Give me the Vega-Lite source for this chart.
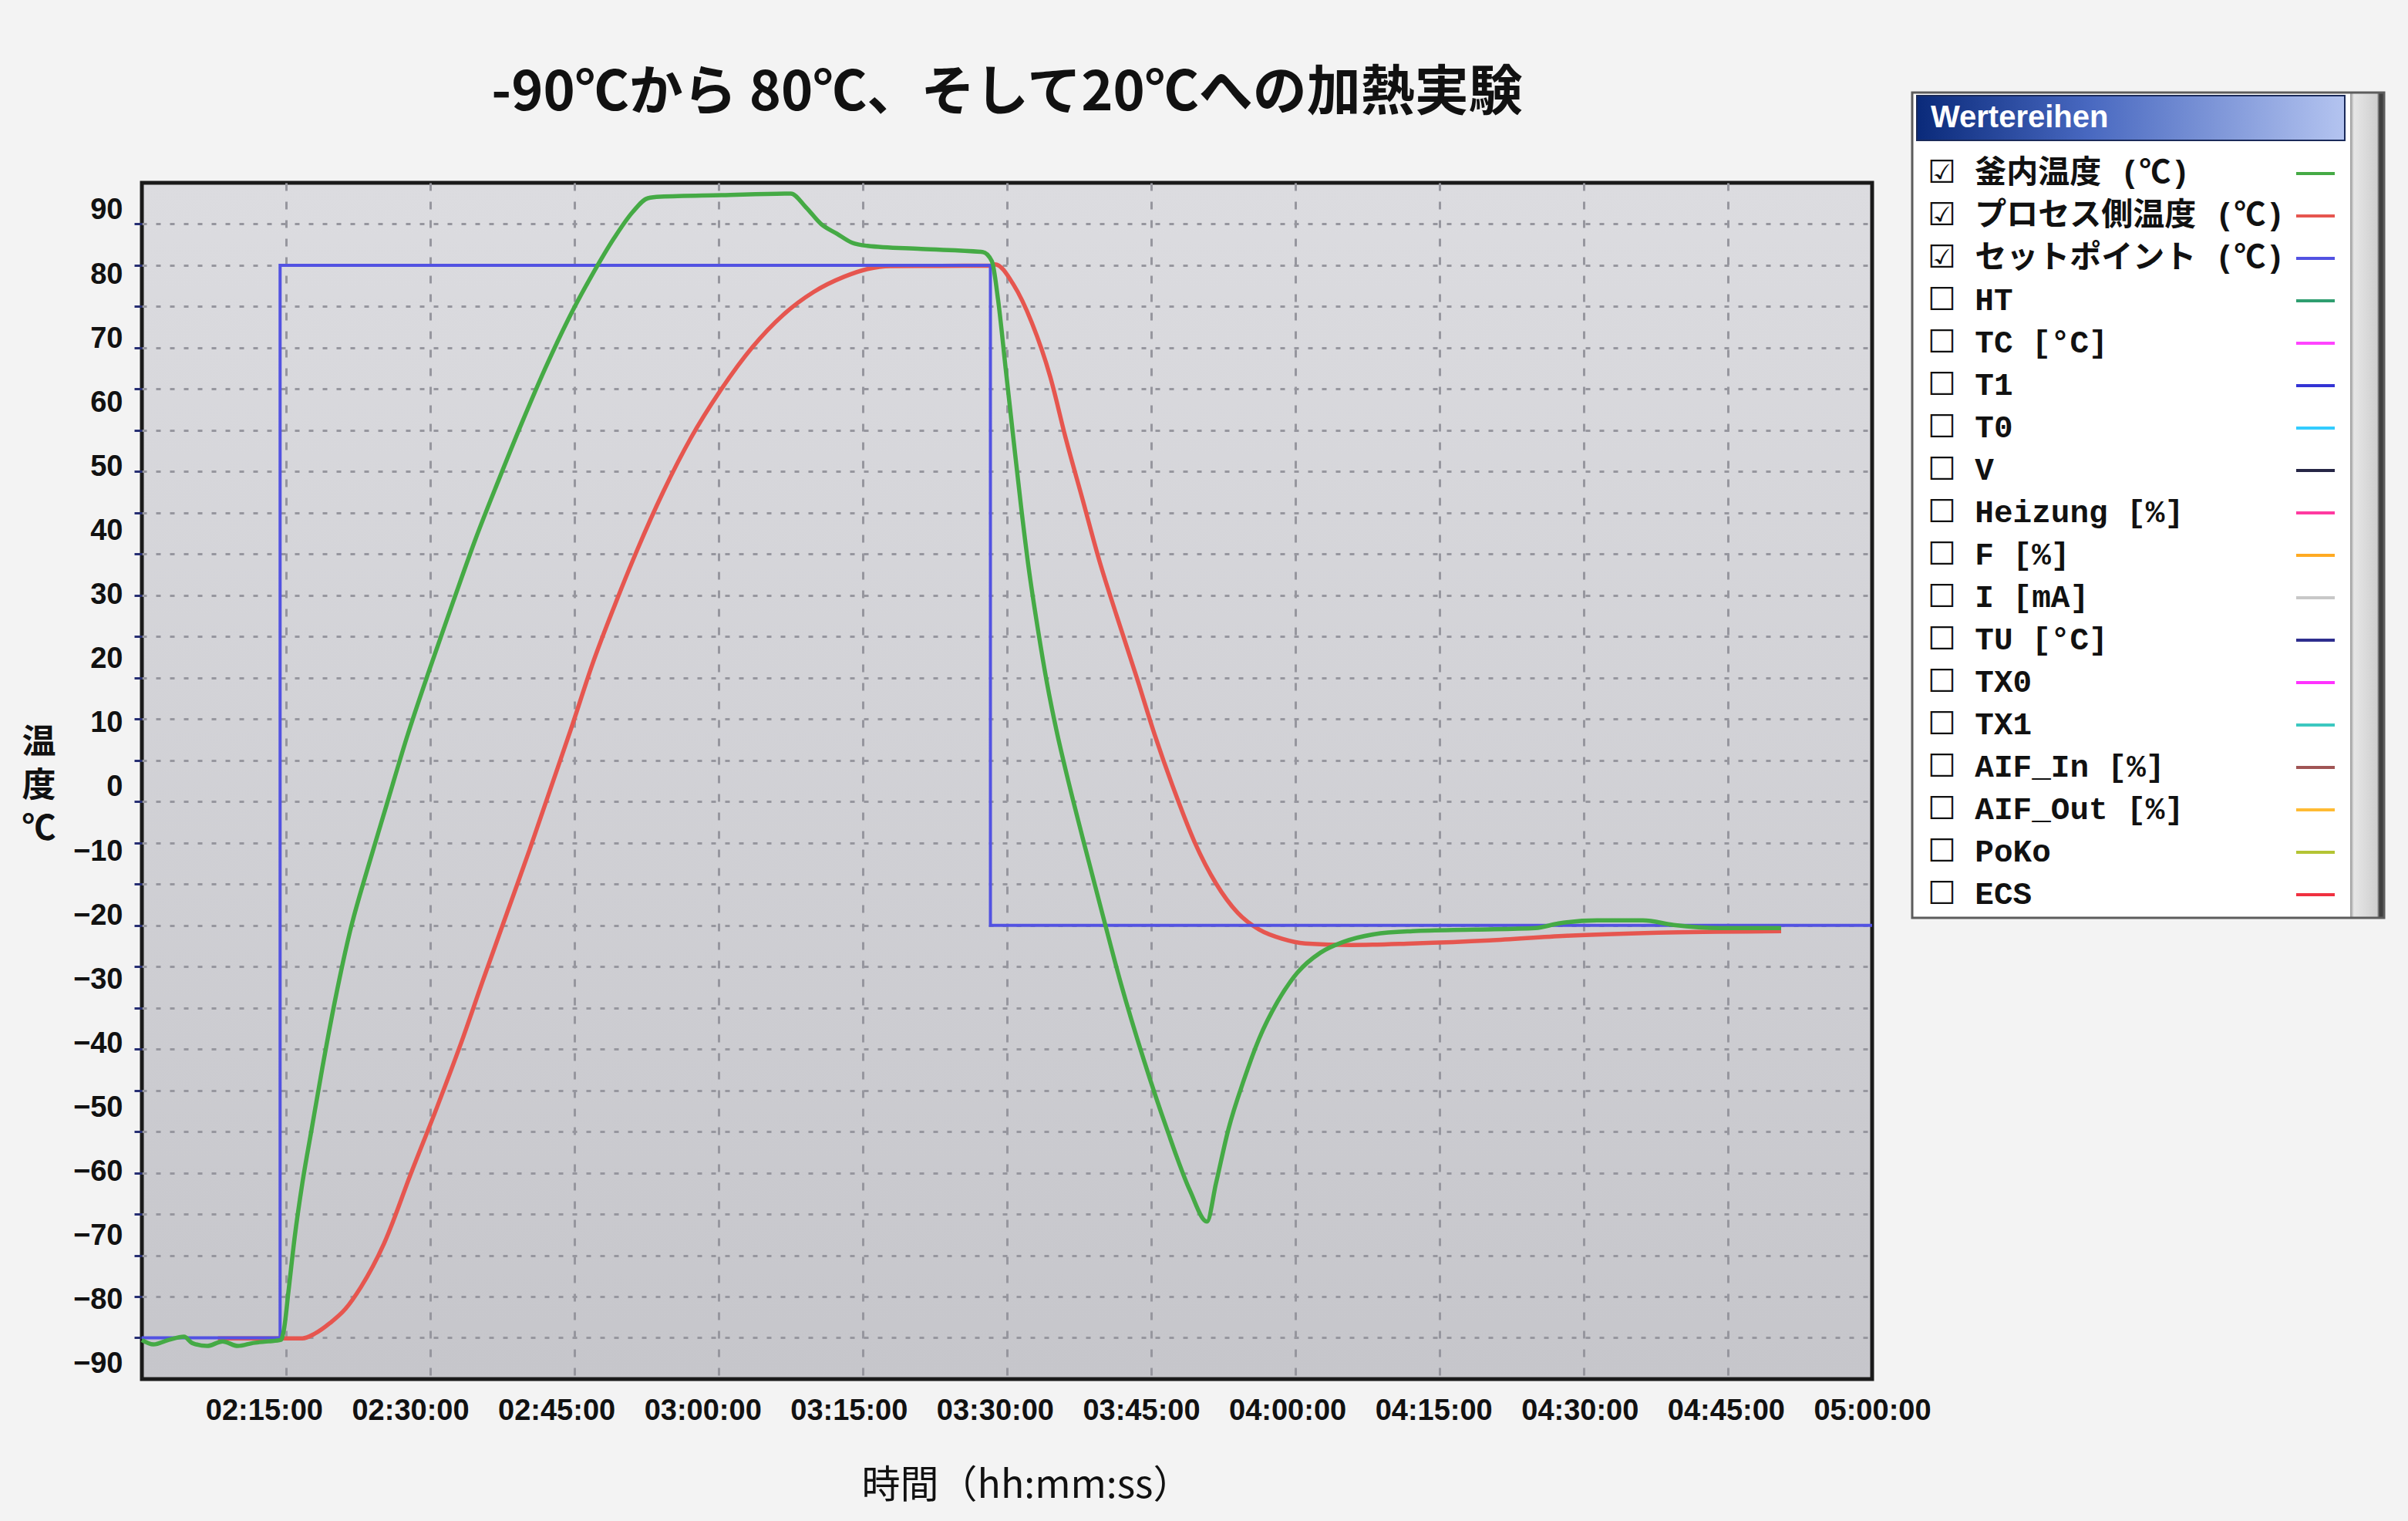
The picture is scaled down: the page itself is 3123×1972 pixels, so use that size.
{
  "$schema": "https://vega.github.io/schema/vega-lite/v6.json",
  "width": 2244,
  "height": 1551,
  "autosize": {"type": "none"},
  "padding": {"left": 184, "top": 237, "right": 695, "bottom": 184},
  "background": "#f3f3f3",
  "title": {
    "text": "-90℃から 80℃、そして20℃への加熱実験",
    "font": "Noto Sans CJK JP",
    "fontSize": 70,
    "fontWeight": "bold",
    "color": "#111111",
    "anchor": "middle",
    "frame": "group",
    "baseline": "middle",
    "offset": -73
  },
  "config": {
    "view": {
      "fill": {"gradient": "linear", "x1": 0, "y1": 0, "x2": 0, "y2": 1, "stops": [{"offset": 0, "color": "#dcdce0"}, {"offset": 1, "color": "#c6c6cb"}]},
      "stroke": "#1a1a1a",
      "strokeWidth": 5
    }
  },
  "data": {
    "values": [
      {"series": "セットポイント (℃)", "t": "2024-01-01T02:02:28", "v": -85.85, "i": 0},
      {"series": "セットポイント (℃)", "t": "2024-01-01T02:16:39", "v": -85.85, "i": 1},
      {"series": "セットポイント (℃)", "t": "2024-01-01T02:16:39", "v": 81.46, "i": 2},
      {"series": "セットポイント (℃)", "t": "2024-01-01T03:29:32", "v": 81.46, "i": 3},
      {"series": "セットポイント (℃)", "t": "2024-01-01T03:29:32", "v": -21.5, "i": 4},
      {"series": "セットポイント (℃)", "t": "2024-01-01T05:00:00", "v": -21.5, "i": 5},

      {"series": "プロセス側温度 (℃)", "t": "2024-01-01T02:10:16", "v": -85.93, "i": 0},
      {"series": "プロセス側温度 (℃)", "t": "2024-01-01T02:18:56", "v": -85.93, "i": 1},
      {"series": "プロセス側温度 (℃)", "t": "2024-01-01T02:20:12", "v": -85.21, "i": 2},
      {"series": "プロセス側温度 (℃)", "t": "2024-01-01T02:21:47", "v": -83.53, "i": 3},
      {"series": "プロセス側温度 (℃)", "t": "2024-01-01T02:23:21", "v": -81.35, "i": 4},
      {"series": "プロセス側温度 (℃)", "t": "2024-01-01T02:24:56", "v": -77.96, "i": 5},
      {"series": "プロセス側温度 (℃)", "t": "2024-01-01T02:27:17", "v": -71.25, "i": 6},
      {"series": "プロセス側温度 (℃)", "t": "2024-01-01T02:30:08", "v": -59.98, "i": 7},
      {"series": "プロセス側温度 (℃)", "t": "2024-01-01T02:32:48", "v": -49.68, "i": 8},
      {"series": "プロセス側温度 (℃)", "t": "2024-01-01T02:35:10", "v": -40.09, "i": 9},
      {"series": "プロセス側温度 (℃)", "t": "2024-01-01T02:37:32", "v": -29.78, "i": 10},
      {"series": "プロセス側温度 (℃)", "t": "2024-01-01T02:39:54", "v": -19.71, "i": 11},
      {"series": "プロセス側温度 (℃)", "t": "2024-01-01T02:42:15", "v": -9.71, "i": 12},
      {"series": "プロセス側温度 (℃)", "t": "2024-01-01T02:44:18", "v": -0.61, "i": 13},
      {"series": "プロセス側温度 (℃)", "t": "2024-01-01T02:46:31", "v": 9.22, "i": 14},
      {"series": "プロセス側温度 (℃)", "t": "2024-01-01T02:48:43", "v": 19.32, "i": 15},
      {"series": "プロセス側温度 (℃)", "t": "2024-01-01T02:50:55", "v": 28.16, "i": 16},
      {"series": "プロセス側温度 (℃)", "t": "2024-01-01T02:53:17", "v": 37.03, "i": 17},
      {"series": "プロセス側温度 (℃)", "t": "2024-01-01T02:55:58", "v": 46.14, "i": 18},
      {"series": "プロセス側温度 (℃)", "t": "2024-01-01T02:58:48", "v": 54.53, "i": 19},
      {"series": "プロセス側温度 (℃)", "t": "2024-01-01T03:01:57", "v": 62.2, "i": 20},
      {"series": "プロセス側温度 (℃)", "t": "2024-01-01T03:05:06", "v": 68.67, "i": 21},
      {"series": "プロセス側温度 (℃)", "t": "2024-01-01T03:08:15", "v": 73.7, "i": 22},
      {"series": "プロセス側温度 (℃)", "t": "2024-01-01T03:11:24", "v": 77.3, "i": 23},
      {"series": "プロセス側温度 (℃)", "t": "2024-01-01T03:14:33", "v": 79.69, "i": 24},
      {"series": "プロセス側温度 (℃)", "t": "2024-01-01T03:16:55", "v": 80.89, "i": 25},
      {"series": "プロセス側温度 (℃)", "t": "2024-01-01T03:19:17", "v": 81.35, "i": 26},
      {"series": "プロセス側温度 (℃)", "t": "2024-01-01T03:29:31", "v": 81.4, "i": 27},
      {"series": "プロセス側温度 (℃)", "t": "2024-01-01T03:30:00", "v": 81.61, "i": 28},
      {"series": "プロセス側温度 (℃)", "t": "2024-01-01T03:31:53", "v": 78.49, "i": 29},
      {"series": "プロセス側温度 (℃)", "t": "2024-01-01T03:33:47", "v": 72.5, "i": 30},
      {"series": "プロセス側温度 (℃)", "t": "2024-01-01T03:35:40", "v": 64.11, "i": 31},
      {"series": "プロセス側温度 (℃)", "t": "2024-01-01T03:37:15", "v": 54.53, "i": 32},
      {"series": "プロセス側温度 (℃)", "t": "2024-01-01T03:38:59", "v": 44.97, "i": 33},
      {"series": "プロセス側温度 (℃)", "t": "2024-01-01T03:40:43", "v": 35.35, "i": 34},
      {"series": "プロセス側温度 (℃)", "t": "2024-01-01T03:42:27", "v": 26.96, "i": 35},
      {"series": "プロセス側温度 (℃)", "t": "2024-01-01T03:44:30", "v": 17.37, "i": 36},
      {"series": "プロセス側温度 (℃)", "t": "2024-01-01T03:46:23", "v": 8.26, "i": 37},
      {"series": "プロセス側温度 (℃)", "t": "2024-01-01T03:48:26", "v": -0.61, "i": 38},
      {"series": "プロセス側温度 (℃)", "t": "2024-01-01T03:50:29", "v": -8.52, "i": 39},
      {"series": "プロセス側温度 (℃)", "t": "2024-01-01T03:52:41", "v": -14.98, "i": 40},
      {"series": "プロセス側温度 (℃)", "t": "2024-01-01T03:54:54", "v": -19.54, "i": 41},
      {"series": "プロセス側温度 (℃)", "t": "2024-01-01T03:57:06", "v": -22.17, "i": 42},
      {"series": "プロセス側温度 (℃)", "t": "2024-01-01T03:59:28", "v": -23.61, "i": 43},
      {"series": "プロセス側温度 (℃)", "t": "2024-01-01T04:01:50", "v": -24.33, "i": 44},
      {"series": "プロセス側温度 (℃)", "t": "2024-01-01T04:06:33", "v": -24.57, "i": 45},
      {"series": "プロセス側温度 (℃)", "t": "2024-01-01T04:12:51", "v": -24.33, "i": 46},
      {"series": "プロセス側温度 (℃)", "t": "2024-01-01T04:20:44", "v": -23.85, "i": 47},
      {"series": "プロセス側温度 (℃)", "t": "2024-01-01T04:28:37", "v": -23.13, "i": 48},
      {"series": "プロセス側温度 (℃)", "t": "2024-01-01T04:38:04", "v": -22.65, "i": 49},
      {"series": "プロセス側温度 (℃)", "t": "2024-01-01T04:50:40", "v": -22.41, "i": 50},

      {"series": "釜内温度 (℃)", "t": "2024-01-01T02:02:28", "v": -86.2, "i": 0},
      {"series": "釜内温度 (℃)", "t": "2024-01-01T02:03:39", "v": -86.89, "i": 1},
      {"series": "釜内温度 (℃)", "t": "2024-01-01T02:05:14", "v": -86.17, "i": 2},
      {"series": "釜内温度 (℃)", "t": "2024-01-01T02:06:48", "v": -85.68, "i": 3},
      {"series": "釜内温度 (℃)", "t": "2024-01-01T02:07:36", "v": -86.65, "i": 4},
      {"series": "釜内温度 (℃)", "t": "2024-01-01T02:09:10", "v": -87.13, "i": 5},
      {"series": "釜内温度 (℃)", "t": "2024-01-01T02:10:45", "v": -86.41, "i": 6},
      {"series": "釜内温度 (℃)", "t": "2024-01-01T02:12:19", "v": -87.13, "i": 7},
      {"series": "釜内温度 (℃)", "t": "2024-01-01T02:13:54", "v": -86.65, "i": 8},
      {"series": "釜内温度 (℃)", "t": "2024-01-01T02:15:28", "v": -86.41, "i": 9},
      {"series": "釜内温度 (℃)", "t": "2024-01-01T02:16:44", "v": -86.17, "i": 10},
      {"series": "釜内温度 (℃)", "t": "2024-01-01T02:17:03", "v": -84.5, "i": 11},
      {"series": "釜内温度 (℃)", "t": "2024-01-01T02:17:31", "v": -78.5, "i": 12},
      {"series": "釜内温度 (℃)", "t": "2024-01-01T02:18:09", "v": -70.11, "i": 13},
      {"series": "釜内温度 (℃)", "t": "2024-01-01T02:18:56", "v": -61.72, "i": 14},
      {"series": "釜内温度 (℃)", "t": "2024-01-01T02:19:53", "v": -53.33, "i": 15},
      {"series": "釜内温度 (℃)", "t": "2024-01-01T02:20:59", "v": -43.75, "i": 16},
      {"series": "釜内温度 (℃)", "t": "2024-01-01T02:22:15", "v": -33.5, "i": 17},
      {"series": "釜内温度 (℃)", "t": "2024-01-01T02:23:49", "v": -22.5, "i": 18},
      {"series": "釜内温度 (℃)", "t": "2024-01-01T02:25:43", "v": -12.2, "i": 19},
      {"series": "釜内温度 (℃)", "t": "2024-01-01T02:27:36", "v": -2.6, "i": 20},
      {"series": "釜内温度 (℃)", "t": "2024-01-01T02:29:39", "v": 7.79, "i": 21},
      {"series": "釜内温度 (℃)", "t": "2024-01-01T02:32:01", "v": 18.57, "i": 22},
      {"series": "釜内温度 (℃)", "t": "2024-01-01T02:34:23", "v": 28.88, "i": 23},
      {"series": "釜内温度 (℃)", "t": "2024-01-01T02:36:45", "v": 38.95, "i": 24},
      {"series": "釜内温度 (℃)", "t": "2024-01-01T02:39:06", "v": 48.05, "i": 25},
      {"series": "釜内温度 (℃)", "t": "2024-01-01T02:41:28", "v": 56.92, "i": 26},
      {"series": "釜内温度 (℃)", "t": "2024-01-01T02:43:50", "v": 65.31, "i": 27},
      {"series": "釜内温度 (℃)", "t": "2024-01-01T02:46:12", "v": 72.98, "i": 28},
      {"series": "釜内温度 (℃)", "t": "2024-01-01T02:48:34", "v": 79.69, "i": 29},
      {"series": "釜内温度 (℃)", "t": "2024-01-01T02:50:55", "v": 85.69, "i": 30},
      {"series": "釜内温度 (℃)", "t": "2024-01-01T02:52:49", "v": 89.76, "i": 31},
      {"series": "釜内温度 (℃)", "t": "2024-01-01T02:54:23", "v": 91.92, "i": 32},
      {"series": "釜内温度 (℃)", "t": "2024-01-01T02:55:39", "v": 92.16, "i": 33},
      {"series": "釜内温度 (℃)", "t": "2024-01-01T03:01:57", "v": 92.4, "i": 34},
      {"series": "釜内温度 (℃)", "t": "2024-01-01T03:09:03", "v": 92.64, "i": 35},
      {"series": "釜内温度 (℃)", "t": "2024-01-01T03:10:37", "v": 90.48, "i": 36},
      {"series": "釜内温度 (℃)", "t": "2024-01-01T03:12:12", "v": 87.84, "i": 37},
      {"series": "釜内温度 (℃)", "t": "2024-01-01T03:13:46", "v": 86.4, "i": 38},
      {"series": "釜内温度 (℃)", "t": "2024-01-01T03:15:21", "v": 84.97, "i": 39},
      {"series": "釜内温度 (℃)", "t": "2024-01-01T03:16:55", "v": 84.49, "i": 40},
      {"series": "釜内温度 (℃)", "t": "2024-01-01T03:22:26", "v": 84.01, "i": 41},
      {"series": "釜内温度 (℃)", "t": "2024-01-01T03:28:44", "v": 83.53, "i": 42},
      {"series": "釜内温度 (℃)", "t": "2024-01-01T03:29:41", "v": 82.09, "i": 43},
      {"series": "釜内温度 (℃)", "t": "2024-01-01T03:30:19", "v": 76.1, "i": 44},
      {"series": "釜内温度 (℃)", "t": "2024-01-01T03:31:06", "v": 65.31, "i": 45},
      {"series": "釜内温度 (℃)", "t": "2024-01-01T03:31:53", "v": 54.53, "i": 46},
      {"series": "釜内温度 (℃)", "t": "2024-01-01T03:32:41", "v": 43.74, "i": 47},
      {"series": "釜内温度 (℃)", "t": "2024-01-01T03:33:28", "v": 34.15, "i": 48},
      {"series": "釜内温度 (℃)", "t": "2024-01-01T03:34:25", "v": 24.56, "i": 49},
      {"series": "釜内温度 (℃)", "t": "2024-01-01T03:35:21", "v": 16.18, "i": 50},
      {"series": "釜内温度 (℃)", "t": "2024-01-01T03:36:18", "v": 8.98, "i": 51},
      {"series": "釜内温度 (℃)", "t": "2024-01-01T03:37:24", "v": 1.79, "i": 52},
      {"series": "釜内温度 (℃)", "t": "2024-01-01T03:38:59", "v": -7.79, "i": 53},
      {"series": "釜内温度 (℃)", "t": "2024-01-01T03:41:02", "v": -19.78, "i": 54},
      {"series": "釜内温度 (℃)", "t": "2024-01-01T03:42:55", "v": -30.56, "i": 55},
      {"series": "釜内温度 (℃)", "t": "2024-01-01T03:45:17", "v": -42.55, "i": 56},
      {"series": "釜内温度 (℃)", "t": "2024-01-01T03:47:39", "v": -53.33, "i": 57},
      {"series": "釜内温度 (℃)", "t": "2024-01-01T03:50:01", "v": -62.92, "i": 58},
      {"series": "釜内温度 (℃)", "t": "2024-01-01T03:51:45", "v": -67.72, "i": 59},
      {"series": "釜内温度 (℃)", "t": "2024-01-01T03:52:41", "v": -61.72, "i": 60},
      {"series": "釜内温度 (℃)", "t": "2024-01-01T03:53:57", "v": -53.33, "i": 61},
      {"series": "釜内温度 (℃)", "t": "2024-01-01T03:55:32", "v": -45.66, "i": 62},
      {"series": "釜内温度 (℃)", "t": "2024-01-01T03:57:06", "v": -39.19, "i": 63},
      {"series": "釜内温度 (℃)", "t": "2024-01-01T03:58:59", "v": -33.44, "i": 64},
      {"series": "釜内温度 (℃)", "t": "2024-01-01T04:01:02", "v": -28.89, "i": 65},
      {"series": "釜内温度 (℃)", "t": "2024-01-01T04:03:24", "v": -25.77, "i": 66},
      {"series": "釜内温度 (℃)", "t": "2024-01-01T04:05:46", "v": -24.09, "i": 67},
      {"series": "釜内温度 (℃)", "t": "2024-01-01T04:08:55", "v": -22.89, "i": 68},
      {"series": "釜内温度 (℃)", "t": "2024-01-01T04:12:51", "v": -22.41, "i": 69},
      {"series": "釜内温度 (℃)", "t": "2024-01-01T04:19:09", "v": -22.17, "i": 70},
      {"series": "釜内温度 (℃)", "t": "2024-01-01T04:25:27", "v": -21.93, "i": 71},
      {"series": "釜内温度 (℃)", "t": "2024-01-01T04:27:49", "v": -21.21, "i": 72},
      {"series": "釜内温度 (℃)", "t": "2024-01-01T04:31:46", "v": -20.73, "i": 73},
      {"series": "釜内温度 (℃)", "t": "2024-01-01T04:36:29", "v": -20.73, "i": 74},
      {"series": "釜内温度 (℃)", "t": "2024-01-01T04:39:38", "v": -21.45, "i": 75},
      {"series": "釜内温度 (℃)", "t": "2024-01-01T04:44:22", "v": -21.93, "i": 76},
      {"series": "釜内温度 (℃)", "t": "2024-01-01T04:50:40", "v": -21.93, "i": 77}
    ]
  },
  "encoding": {
    "color": {
      "field": "series",
      "type": "nominal",
      "scale": {
        "domain": ["釜内温度 (℃)", "プロセス側温度 (℃)", "セットポイント (℃)", "HT", "TC [°C]", "T1", "T0", "V", "Heizung [%]", "F [%]", "I [mA]", "TU [°C]", "TX0", "TX1", "AIF_In [%]", "AIF_Out [%]", "PoKo", "ECS"],
        "range": ["#45aa45", "#e6564f", "#5252e2", "#2f9e70", "#ff44ff", "#3434d4", "#33ccff", "#262646", "#ff3aa0", "#ffaa22", "#c8c8c8", "#2e2e8e", "#ff33ff", "#3cc8c0", "#a05555", "#ffbb33", "#b4c434", "#f03040"]
      },
      "legend": {
        "orient": "none",
        "legendX": 2296,
        "legendY": -117,
        "title": " ",
        "titleFont": "Liberation Sans",
        "titleFontSize": 40,
        "titlePadding": 28,
        "padding": 10,
        "symbolType": "M-1,0H1M2.84,0",
        "symbolSize": 2500,
        "symbolStrokeWidth": 4,
        "symbolOffset": 486,
        "labelOffset": -530,
        "labelFont": "Liberation Mono, Noto Sans CJK JP, DejaVu Sans",
        "labelFontSize": 41,
        "labelFontWeight": "bold",
        "labelColor": "#111111",
        "labelLimit": 1000,
        "rowPadding": 8,
        "labelExpr": "(indexof(['釜内温度 (℃)','プロセス側温度 (℃)','セットポイント (℃)'], datum.label) >= 0 ? '☑ ' : '☐ ') + datum.label",
        "encode": {
          "legend": {
            "update": {
              "fill": {"value": {"gradient": "linear", "x1": 0, "y1": 0, "x2": 1, "y2": 0, "stops": [{"offset": 0, "color": "#ffffff"}, {"offset": 0.928, "color": "#ffffff"}, {"offset": 0.929, "color": "#9a9a9a"}, {"offset": 0.936, "color": "#e6e6e6"}, {"offset": 0.985, "color": "#cfcfcf"}, {"offset": 0.99, "color": "#404040"}, {"offset": 1, "color": "#404040"}]}},
              "stroke": {"value": "#5c5c5c"},
              "strokeWidth": {"value": 3}
            }
          }
        }
      }
    },
    "order": {"field": "i", "type": "quantitative"}
  },
  "layer": [
    {
      "transform": [{"filter": "datum.series === 'プロセス側温度 (℃)'"}],
      "mark": {"type": "line", "strokeWidth": 5.5, "interpolate": "monotone"},
      "encoding": {
        "x": {
          "field": "t", "type": "temporal",
          "scale": {"domain": [{"year": 2024, "month": 1, "date": 1, "hours": 2, "minutes": 2, "seconds": 28}, {"year": 2024, "month": 1, "date": 1, "hours": 5, "minutes": 0, "seconds": 0}], "nice": false},
          "axis": {
            "orient": "bottom",
            "title": null,
            "values": [
              {"year": 2024, "month": 1, "date": 1, "hours": 2, "minutes": 17, "seconds": 16},
              {"year": 2024, "month": 1, "date": 1, "hours": 2, "minutes": 32, "seconds": 3},
              {"year": 2024, "month": 1, "date": 1, "hours": 2, "minutes": 46, "seconds": 51},
              {"year": 2024, "month": 1, "date": 1, "hours": 3, "minutes": 1, "seconds": 39},
              {"year": 2024, "month": 1, "date": 1, "hours": 3, "minutes": 16, "seconds": 26},
              {"year": 2024, "month": 1, "date": 1, "hours": 3, "minutes": 31, "seconds": 14},
              {"year": 2024, "month": 1, "date": 1, "hours": 3, "minutes": 46, "seconds": 2},
              {"year": 2024, "month": 1, "date": 1, "hours": 4, "minutes": 0, "seconds": 49},
              {"year": 2024, "month": 1, "date": 1, "hours": 4, "minutes": 15, "seconds": 37},
              {"year": 2024, "month": 1, "date": 1, "hours": 4, "minutes": 30, "seconds": 25},
              {"year": 2024, "month": 1, "date": 1, "hours": 4, "minutes": 45, "seconds": 12}
            ],
            "grid": true, "gridColor": "#96969e", "gridDash": [10, 14], "gridWidth": 3,
            "labels": false, "ticks": false, "domain": false
          }
        },
        "y": {
          "field": "v", "type": "quantitative",
          "scale": {"domain": [-92.29, 94.33], "nice": false, "zero": false},
          "axis": {
            "orient": "left",
            "title": null,
            "values": [87.9, 81.46, 75.03, 68.59, 62.16, 55.72, 49.29, 42.85, 36.42, 29.98, 23.55, 17.11, 10.68, 4.24, -2.19, -8.63, -15.06, -21.5, -27.93, -34.37, -40.8, -47.24, -53.67, -60.11, -66.54, -72.98, -79.41, -85.85],
            "grid": true, "gridColor": "#96969e", "gridDash": [6, 12], "gridWidth": 3,
            "labels": false, "ticks": true, "tickSize": 10, "tickColor": "#262e72", "tickWidth": 3, "domain": false
          }
        }
      }
    },
    {
      "transform": [{"filter": "datum.series === 'セットポイント (℃)'"}],
      "mark": {"type": "line", "strokeWidth": 4},
      "encoding": {
        "x": {"field": "t", "type": "temporal", "axis": null, "scale": {"domain": [{"year": 2024, "month": 1, "date": 1, "hours": 2, "minutes": 2, "seconds": 28}, {"year": 2024, "month": 1, "date": 1, "hours": 5, "minutes": 0, "seconds": 0}], "nice": false}},
        "y": {"field": "v", "type": "quantitative", "axis": null, "scale": {"domain": [-92.29, 94.33], "nice": false, "zero": false}},
        "strokeDash": {
          "datum": "Wertereihen",
          "type": "nominal",
          "scale": {"range": [[1, 0]]},
          "legend": {
            "orient": "none",
            "legendX": 2302,
            "legendY": -113,
            "title": null,
            "padding": 9,
            "symbolOpacity": 0,
            "symbolSize": 100,
            "symbolStrokeWidth": 0,
            "symbolOffset": 512,
            "labelOffset": -543,
            "labelFont": "Liberation Sans",
            "labelFontSize": 40,
            "labelFontWeight": "bold",
            "labelColor": "#ffffff",
            "labelLimit": 1000,
            "encode": {
              "legend": {
                "update": {
                  "fill": {"value": {"gradient": "linear", "x1": 0, "y1": 0, "x2": 1, "y2": 0, "stops": [{"offset": 0, "color": "#0a2a7a"}, {"offset": 0.4, "color": "#4868c0"}, {"offset": 1, "color": "#b4c4f0"}]}},
                  "stroke": {"value": "#1a2a5a"},
                  "strokeWidth": {"value": 2}
                }
              }
            }
          }
        }
      }
    },
    {
      "transform": [{"filter": "datum.series === '釜内温度 (℃)'"}],
      "mark": {"type": "line", "strokeWidth": 5.5, "interpolate": "monotone"},
      "encoding": {
        "x": {
          "field": "t", "type": "temporal",
          "scale": {"domain": [{"year": 2024, "month": 1, "date": 1, "hours": 2, "minutes": 2, "seconds": 28}, {"year": 2024, "month": 1, "date": 1, "hours": 5, "minutes": 0, "seconds": 0}], "nice": false},
          "axis": {
            "orient": "bottom",
            "values": [
              {"year": 2024, "month": 1, "date": 1, "hours": 2, "minutes": 15},
              {"year": 2024, "month": 1, "date": 1, "hours": 2, "minutes": 30},
              {"year": 2024, "month": 1, "date": 1, "hours": 2, "minutes": 45},
              {"year": 2024, "month": 1, "date": 1, "hours": 3, "minutes": 0},
              {"year": 2024, "month": 1, "date": 1, "hours": 3, "minutes": 15},
              {"year": 2024, "month": 1, "date": 1, "hours": 3, "minutes": 30},
              {"year": 2024, "month": 1, "date": 1, "hours": 3, "minutes": 45},
              {"year": 2024, "month": 1, "date": 1, "hours": 4, "minutes": 0},
              {"year": 2024, "month": 1, "date": 1, "hours": 4, "minutes": 15},
              {"year": 2024, "month": 1, "date": 1, "hours": 4, "minutes": 30},
              {"year": 2024, "month": 1, "date": 1, "hours": 4, "minutes": 45},
              {"year": 2024, "month": 1, "date": 1, "hours": 5, "minutes": 0}
            ],
            "format": "%H:%M:%S",
            "labelFont": "Liberation Sans",
            "labelFontSize": 38,
            "labelFontWeight": "bold",
            "labelColor": "#111111",
            "labelPadding": 41,
            "labelBaseline": "middle",
            "labelFlush": false,
            "labelOverlap": false,
            "labelBound": false,
            "labelLimit": 400,
            "grid": false, "ticks": false, "tickSize": 0, "domain": false,
            "title": "時間（hh:mm:ss）",
            "titleFont": "Noto Sans CJK JP",
            "titleFontSize": 50,
            "titleFontWeight": "normal",
            "titleColor": "#111111",
            "titleX": 1147,
            "titleY": 138,
            "titleAlign": "center",
            "titleBaseline": "middle"
          }
        },
        "y": {
          "field": "v", "type": "quantitative",
          "scale": {"domain": [-92.29, 94.33], "nice": false, "zero": false},
          "axis": {
            "orient": "left",
            "values": [-90, -80, -70, -60, -50, -40, -30, -20, -10, 0, 10, 20, 30, 40, 50, 60, 70, 80, 90],
            "labelFont": "Liberation Sans",
            "labelFontSize": 38,
            "labelFontWeight": "bold",
            "labelColor": "#111111",
            "labelPadding": 25,
            "labelFlush": false,
            "labelOverlap": false,
            "grid": false, "ticks": false, "tickSize": 0, "domain": false,
            "title": ["温", "度", "℃"],
            "titleAngle": 0,
            "titleX": -134,
            "titleY": 704,
            "titleAlign": "center",
            "titleBaseline": "top",
            "titleFont": "Noto Sans CJK JP",
            "titleFontSize": 44,
            "titleLineHeight": 56,
            "titleFontWeight": "bold",
            "titleColor": "#111111"
          }
        }
      }
    }
  ],
  "resolve": {"axis": {"x": "independent", "y": "independent"}}
}
